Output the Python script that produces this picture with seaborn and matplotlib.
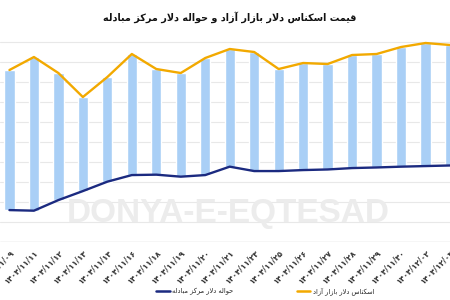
import matplotlib
matplotlib.use("Agg")
import matplotlib.pyplot as plt
import seaborn as sns
import pandas as pd
import numpy as np
from matplotlib.lines import Line2D

# ---------------- data ----------------
dates = ["1404/11/09", "1404/11/11", "1404/11/12", "1404/11/13", "1404/11/14",
         "1404/11/16", "1404/11/18", "1404/11/19", "1404/11/20", "1404/11/21",
         "1404/11/23", "1404/11/25", "1404/11/26", "1404/11/27", "1404/11/28",
         "1404/11/29", "1404/11/30", "1404/12/02", "1404/12/03"]
free_market = [166000, 172500, 164500, 152500, 162500, 174000, 166500, 164500,
               172000, 176500, 175000, 166500, 169500, 169000, 173500, 174000,
               177500, 179500, 178500]
exchange_center = [96000, 95700, 101000, 105500, 110200, 113500, 113700, 112700,
                   113500, 117700, 115500, 115500, 116000, 116300, 117000, 117300,
                   117700, 118000, 118300]
title_txt = "قیمت اسکناس دلار بازار آزاد و حواله دلار مرکز مبادله"
label_free = "اسکناس دلار بازار آزاد"
label_center = "حواله دلار مرکز مبادله"
watermark = "DONYA-E-EQTESAD"

# ------------- Persian shaping (matplotlib has no complex text layout) -------------
FORMS = {
    '\u0622': ('\uFE81', '\uFE82', None, None),
    '\u0627': ('\uFE8D', '\uFE8E', None, None),
    '\u0628': ('\uFE8F', '\uFE90', '\uFE91', '\uFE92'),
    '\u062A': ('\uFE95', '\uFE96', '\uFE97', '\uFE98'),
    '\u062D': ('\uFEA1', '\uFEA2', '\uFEA3', '\uFEA4'),
    '\u062F': ('\uFEA9', '\uFEAA', None, None),
    '\u0631': ('\uFEAD', '\uFEAE', None, None),
    '\u0632': ('\uFEAF', '\uFEB0', None, None),
    '\u0633': ('\uFEB1', '\uFEB2', '\uFEB3', '\uFEB4'),
    '\u0642': ('\uFED5', '\uFED6', '\uFED7', '\uFED8'),
    '\u0644': ('\uFEDD', '\uFEDE', '\uFEDF', '\uFEE0'),
    '\u0645': ('\uFEE1', '\uFEE2', '\uFEE3', '\uFEE4'),
    '\u0646': ('\uFEE5', '\uFEE6', '\uFEE7', '\uFEE8'),
    '\u0647': ('\uFEE9', '\uFEEA', '\uFEEB', '\uFEEC'),
    '\u0648': ('\uFEED', '\uFEEE', None, None),
    '\u06A9': ('\uFB8E', '\uFB8F', '\uFB90', '\uFB91'),
    '\u06CC': ('\uFBFC', '\uFBFD', '\uFBFE', '\uFBFF'),
}
LIG = {'LA': ('\uFEFB', '\uFEFC'), 'LAA': ('\uFEF5', '\uFEF6')}


def shape(text):
    units, i = [], 0
    while i < len(text):
        c = text[i]
        if c == '\u0644' and i + 1 < len(text) and text[i + 1] in ('\u0627', '\u0622'):
            units.append('LA' if text[i + 1] == '\u0627' else 'LAA')
            i += 2
        else:
            units.append(c)
            i += 1

    def joins_left(u):
        return u in FORMS and FORMS[u][2] is not None

    def joinable(u):
        return u in FORMS or u in LIG

    res = []
    for k, u in enumerate(units):
        prev = units[k - 1] if k > 0 else None
        nxt = units[k + 1] if k + 1 < len(units) else None
        jp = prev is not None and joins_left(prev) and joinable(u)
        jn = nxt is not None and joins_left(u) and joinable(nxt)
        if u in LIG:
            res.append(LIG[u][1] if jp else LIG[u][0])
        elif u in FORMS:
            iso, fin, ini, med = FORMS[u]
            res.append(med if (jp and jn) else fin if jp else ini if jn else iso)
        else:
            res.append(u)
    return ''.join(reversed(res))


fa_digits = str.maketrans('0123456789', '۰۱۲۳۴۵۶۷۸۹')
tick_labels = [d.translate(fa_digits) for d in dates]

df = pd.DataFrame({"pos": np.arange(len(dates)), "free": free_market, "center": exchange_center})

# ---------------- plot ----------------
sns.set_style("white")
plt.rcParams['font.family'] = ['DejaVu Sans']

fig = plt.figure(figsize=(4.5, 3), dpi=100)
ax = fig.add_axes([0.0, 0.193, 1.0, 0.707])

ax.set_xlim(-0.386, 17.9)
ax.set_ylim(80000, 186000)

# gridlines
for gv in range(90000, 190000, 10000):
    ax.axhline(gv, color="#E8E8E8", lw=0.8, zorder=0)
ax.axhline(80000, color="#D3D3D3", lw=1.0, zorder=0)

# watermark
ax.text(0.508, 0.135, watermark, transform=ax.transAxes, ha="center", va="center",
        fontsize=24, fontweight="bold", color="#ECECEC", zorder=0.5,
        family=["Liberation Sans", "DejaVu Sans"])

# floating bars between the two series
ax.bar(df["pos"], df["free"] - df["center"], bottom=df["center"], width=0.42,
       color="#A9CFF6", zorder=1)

sns.lineplot(data=df, x="pos", y="free", ax=ax, color="#F2A900", lw=1.7, zorder=3)
sns.lineplot(data=df, x="pos", y="center", ax=ax, color="#1B2A80", lw=1.7, zorder=3)

ax.set_xticks(df["pos"])
ax.set_xticklabels(tick_labels, rotation=45, ha="right", rotation_mode="anchor",
                   fontsize=5.7, fontweight="bold", color="#333333")
ax.tick_params(axis="x", length=0, pad=4)
ax.set_yticks([])
ax.set_xlabel("")
ax.set_ylabel("")
for s in ax.spines.values():
    s.set_visible(False)

fig.text(0.51, 0.943, shape(title_txt), ha="center", va="center",
         fontsize=6.9, fontweight="bold", color="#111111")

handles = [Line2D([], [], color="#1B2A80", lw=1.8),
           Line2D([], [], color="#F2A900", lw=1.8)]
fig.legend(handles, [shape(label_center), shape(label_free)], ncol=2,
           loc="center", bbox_to_anchor=(0.59, 0.03), frameon=False,
           fontsize=4.8, handlelength=2.0, handletextpad=0.4, columnspacing=9.5)

fig.savefig("out.png", dpi=100)
